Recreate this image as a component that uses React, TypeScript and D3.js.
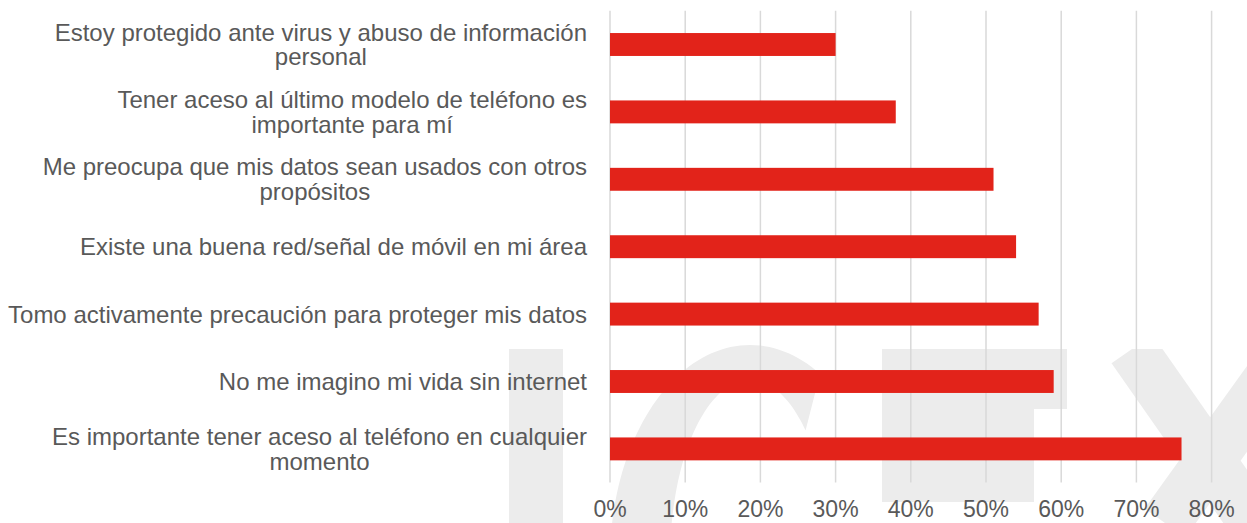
import React, { useEffect, useRef } from "react";
import * as d3 from "d3";

const categories: string[] = [
  "Estoy protegido ante virus y abuso de información personal",
  "Tener aceso al último modelo de teléfono es importante para mí",
  "Me preocupa que mis datos sean usados con otros propósitos",
  "Existe una buena red/señal de móvil en mi área",
  "Tomo activamente precaución para proteger mis datos",
  "No me imagino mi vida sin internet",
  "Es importante tener aceso al teléfono en cualquier momento",
];
const values: number[] = [0.30, 0.38, 0.51, 0.54, 0.57, 0.59, 0.76];
const ticks: number[] = [0, 0.1, 0.2, 0.3, 0.4, 0.5, 0.6, 0.7, 0.8];

const W = 1247;
const H = 523;
const FONT = "'Liberation Sans', Arial, sans-serif";
const TEXT = "#595959";
const RED = "#e2231a";
const WM = "#ececec";

export default function App() {
  const ref = useRef<SVGSVGElement | null>(null);

  useEffect(() => {
    const svg = d3.select(ref.current);
    svg.selectAll("*").remove();

    const x = d3.scaleLinear().domain([0, 0.8]).range([610, 1211.6]);
    const y = d3
      .scaleBand<string>()
      .domain(categories)
      .range([10.8, 482.6])
      .paddingInner(0.66)
      .paddingOuter(0.33);

    // watermark (background logo)
    const wm = svg.append("g").attr("fill", WM);
    wm.append("rect").attr("x", 509).attr("y", 349).attr("width", 54).attr("height", 180);
    // "C" shape: ring segment between two ellipses
    const cx0 = 750, cy0 = 560;
    const outer = d3.range(60, 201, 2).map((a) => {
      const t = (a * Math.PI) / 180;
      return [cx0 + 140 * Math.cos(t), cy0 - 215 * Math.sin(t)] as [number, number];
    });
    const inner = d3.range(200, 44, -2).map((a) => {
      const t = (a * Math.PI) / 180;
      return [cx0 + 80 * Math.cos(t), cy0 - 180 * Math.sin(t)] as [number, number];
    });
    wm.append("path").attr("d", d3.line()([...outer, ...inner]) + "Z");
    wm.append("rect").attr("x", 882).attr("y", 349).attr("width", 185).attr("height", 60);
    wm.append("rect").attr("x", 882).attr("y", 409).attr("width", 152).attr("height", 93);
    wm.append("line")
      .attr("x1", 1132).attr("y1", 349).attr("x2", 1300).attr("y2", 589)
      .attr("stroke", WM).attr("stroke-width", 50);
    wm.append("line")
      .attr("x1", 1165).attr("y1", 523).attr("x2", 1300).attr("y2", 335)
      .attr("stroke", WM).attr("stroke-width", 50);
    // cover above top of X
    svg.append("rect").attr("x", 1080).attr("y", 300).attr("width", 170).attr("height", 49).attr("fill", "#fff");

    // gridlines
    svg.append("g")
      .selectAll("line")
      .data(ticks)
      .join("line")
      .attr("x1", (d) => x(d))
      .attr("x2", (d) => x(d))
      .attr("y1", 10.8)
      .attr("y2", 482.6)
      .attr("stroke", "#d9d9d9")
      .attr("stroke-width", 1.5);

    // bars
    svg.append("g")
      .selectAll("rect")
      .data(categories)
      .join("rect")
      .attr("x", x(0))
      .attr("y", (d) => y(d)!)
      .attr("width", (d, i) => x(values[i]) - x(0))
      .attr("height", y.bandwidth())
      .attr("fill", RED);

    // tick labels
    svg.append("g")
      .selectAll("text")
      .data(ticks)
      .join("text")
      .attr("x", (d) => x(d))
      .attr("y", 517)
      .attr("text-anchor", "middle")
      .attr("font-family", FONT)
      .attr("font-size", 23)
      .attr("fill", TEXT)
      .text((d) => d3.format(".0%")(d));

    // category labels with wrapping
    const right = 587;
    const maxW = 584;
    const lh = 24.5;
    const lab = svg.append("g").attr("font-family", FONT).attr("font-size", 24).attr("fill", TEXT);
    const measure = lab.append("text");
    const widthOf = (s: string) => {
      measure.text(s);
      return (measure.node() as SVGTextElement).getComputedTextLength();
    };
    categories.forEach((c) => {
      const words = c.split(" ");
      const lines: string[] = [];
      let cur = "";
      words.forEach((w) => {
        const t = cur ? cur + " " + w : w;
        if (widthOf(t) > maxW && cur) {
          lines.push(cur);
          cur = w;
        } else cur = t;
      });
      if (cur) lines.push(cur);
      const widths = lines.map(widthOf);
      const bw = Math.max(...widths);
      const cx = right - bw / 2;
      const cy = y(c)! + y.bandwidth() / 2;
      const y0 = cy - ((lines.length - 1) * lh) / 2;
      lines.forEach((l, i) => {
        lab.append("text")
          .attr("x", cx)
          .attr("y", y0 + i * lh)
          .attr("dy", "0.35em")
          .attr("text-anchor", "middle")
          .text(l);
      });
    });
    measure.remove();
  }, []);

  return (
    <svg
      ref={ref}
      width={W}
      height={H}
      style={{ position: "absolute", left: 0, top: 0, background: "#fff" }}
    />
  );
}
